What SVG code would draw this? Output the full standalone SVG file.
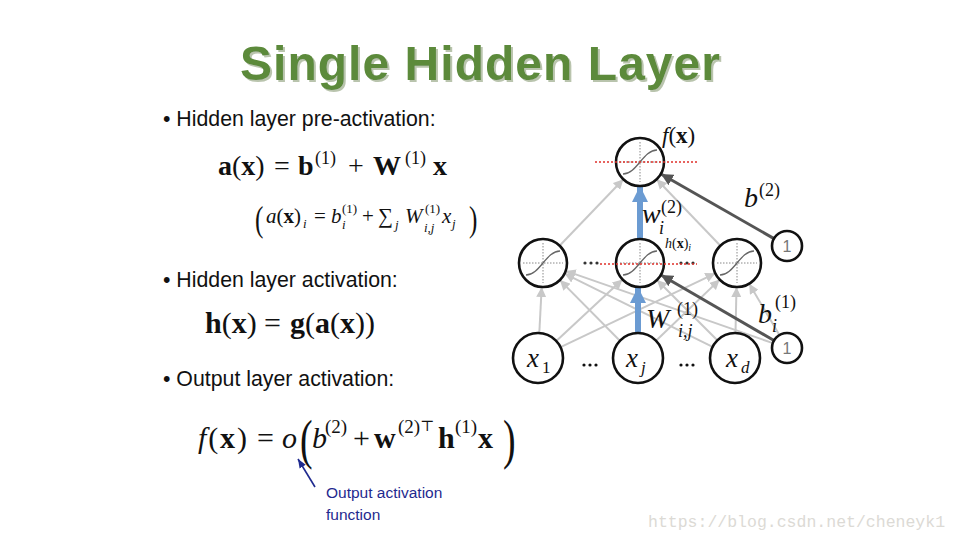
<svg xmlns="http://www.w3.org/2000/svg" xmlns:xlink="http://www.w3.org/1999/xlink" width="960" height="540" viewBox="0 0 960 540">
<style>
.t{font-family:"Liberation Sans",Arial,sans-serif}
.m{font-family:"Liberation Serif","DejaVu Serif",serif;fill:#111}
.i{font-style:italic}
.b{font-weight:bold}
.bul{font-family:"Liberation Sans",Arial,sans-serif;font-size:21.3px;fill:#111}
.node{fill:#fff;stroke:#111;stroke-width:2.6}
.lg{stroke:#c8c8c8;stroke-width:2;fill:none;marker-end:url(#ag)}
.dk{stroke:#555;stroke-width:3;fill:none;marker-end:url(#ad)}
.bl{stroke:#6b9bd2;stroke-width:6;fill:none;marker-end:url(#ab)}
.red{stroke:#e0302a;stroke-width:1.5;stroke-dasharray:2 2}
.one{font-family:"Liberation Sans",Arial,sans-serif;font-size:16px;fill:#777}
</style>
<defs>
<filter id="sh" x="-5%" y="-20%" width="110%" height="140%">
<feOffset in="SourceAlpha" dx="2" dy="2" result="o"/>
<feFlood flood-color="#b9c4ad"/>
<feComposite in2="o" operator="in" result="s"/>
<feMerge><feMergeNode in="s"/><feMergeNode in="SourceGraphic"/></feMerge>
</filter>
<marker id="ag" viewBox="0 0 10 10" refX="10" refY="5" markerWidth="10" markerHeight="10" markerUnits="userSpaceOnUse" orient="auto"><path d="M0,0 L10,5 L0,10 z" fill="#c8c8c8"/></marker>
<marker id="ad" viewBox="0 0 10 10" refX="10" refY="5" markerWidth="12" markerHeight="12" markerUnits="userSpaceOnUse" orient="auto"><path d="M0,0 L10,5 L0,10 z" fill="#555"/></marker>
<marker id="ab" viewBox="0 0 10 10" refX="10" refY="5" markerWidth="16" markerHeight="16" markerUnits="userSpaceOnUse" orient="auto"><path d="M0,0 L10,5 L0,10 z" fill="#6b9bd2"/></marker>
<marker id="an" viewBox="0 0 10 10" refX="10" refY="5" markerWidth="9" markerHeight="9" markerUnits="userSpaceOnUse" orient="auto"><path d="M0,1 L10,5 L0,9 z" fill="#1f2a8f"/></marker>
<g id="sig">
<path d="M-20,0 H20 M0,-20 V20" stroke="#888" stroke-width="1" stroke-dasharray="1.5 1.5" fill="none"/>
<path d="M-17,12 C-3,12 3,-12 17,-12" stroke="#666" stroke-width="1.3" fill="none"/>
</g>
</defs>
<rect width="960" height="540" fill="#fff"/>

<g id="title">
<text x="480" y="80" text-anchor="middle" class="t b" font-size="48" fill="#5b8a3a" textLength="480" filter="url(#sh)">Single Hidden Layer</text>
</g>

<g id="bullets">
<text x="163" y="126" class="bul">• Hidden layer pre-activation:</text>
<text x="163" y="287" class="bul">• Hidden layer activation:</text>
<text x="163" y="386" class="bul">• Output layer activation:</text>
</g>

<g id="eq1" class="m" font-size="28">
<text x="218" y="175"><tspan class="b">a</tspan>(<tspan class="b">x</tspan>)</text>
<text x="274" y="175">=</text>
<text x="298" y="175" class="b">b</text>
<text x="315" y="164" font-size="18">(1)</text>
<text x="348" y="175">+</text>
<text x="373" y="175" class="b">W</text>
<text x="405" y="164" font-size="18">(1)</text>
<text x="433" y="175" class="b">x</text>
</g>

<g id="eq1b" class="m" font-size="21">
<text x="255" y="231" font-size="36" transform="translate(255 231) scale(0.7 1) translate(-255 -231)">(</text>
<text x="266" y="223"><tspan class="i">a</tspan>(<tspan class="b">x</tspan>)</text>
<text x="303" y="228" font-size="13" class="i">i</text>
<text x="314" y="223">=</text>
<text x="331" y="223" class="i">b</text>
<text x="342" y="213" font-size="13">(1)</text>
<text x="342" y="229" font-size="13" class="i">i</text>
<text x="362" y="223">+</text>
<text x="378" y="223">∑</text>
<text x="395" y="229" font-size="13" class="i">j</text>
<text x="405" y="223" class="i">W</text>
<text x="425" y="213" font-size="13">(1)</text>
<text x="424" y="232" font-size="13" class="i">i,j</text>
<text x="442" y="223" class="i">x</text>
<text x="452" y="228" font-size="13" class="i">j</text>
<text x="469" y="231" font-size="36" transform="translate(469 231) scale(0.7 1) translate(-469 -231)">)</text>
</g>

<g id="eq2" class="m" font-size="30">
<text x="205" y="333"><tspan class="b">h</tspan>(<tspan class="b">x</tspan>)</text>
<text x="264" y="333">=</text>
<text x="290" y="333"><tspan class="b">g</tspan>(<tspan class="b">a</tspan>(<tspan class="b">x</tspan>))</text>
</g>

<g id="eq3" class="m" font-size="30">
<text x="198" y="448" textLength="49"><tspan class="i">f</tspan>(<tspan class="b">x</tspan>)</text>
<text x="257" y="448">=</text>
<text x="282" y="448" class="i">o</text>
<text x="300" y="458" font-size="54" transform="translate(300 458) scale(0.7 1) translate(-300 -458)">(</text>
<text x="312" y="448" class="i">b</text>
<text x="325" y="433" font-size="19">(2)</text>
<text x="353" y="448">+</text>
<text x="374" y="448" class="b">w</text>
<text x="398" y="433" font-size="19">(2)</text>
<text x="420" y="431" font-size="15">⊤</text>
<text x="438" y="448" class="b">h</text>
<text x="455" y="433" font-size="19">(1)</text>
<text x="478" y="448" class="b">x</text>
<text x="503" y="458" font-size="54" transform="translate(503 458) scale(0.7 1) translate(-503 -458)">)</text>
</g>

<g id="annotation">
<line x1="315" y1="487" x2="298" y2="459" stroke="#1f2a8f" stroke-width="1.6" marker-end="url(#an)"/>
<text x="326" y="498" class="t" font-size="15.5" fill="#1f2a8f">Output activation</text>
<text x="326" y="520" class="t" font-size="15.5" fill="#1f2a8f">function</text>
</g>

<g id="connectors">
<line class="lg" x1="539.3" y1="333" x2="541.7" y2="287"/>
<line class="lg" x1="556.3" y1="341" x2="622.4" y2="279.4"/>
<line class="lg" x1="560.6" y1="347.2" x2="715.3" y2="273.3"/>
<line class="lg" x1="619.4" y1="340.2" x2="559.9" y2="280.1"/>
<line class="lg" x1="656" y1="340.7" x2="719.7" y2="279.6"/>
<line class="lg" x1="712.6" y1="346.9" x2="564.5" y2="273.6"/>
<line class="lg" x1="717.3" y1="340.3" x2="657" y2="280"/>
<line class="lg" x1="735.5" y1="333" x2="736.5" y2="287"/>
<line class="lg" x1="772.8" y1="343.1" x2="565.7" y2="270.9"/>
<line class="lg" x1="779.4" y1="335.1" x2="749.2" y2="283.7"/>
<line class="lg" x1="559.6" y1="245.7" x2="623.4" y2="179.3"/>
<line class="lg" x1="720.4" y1="245.7" x2="656.6" y2="179.3"/>
<line class="dk" x1="774" y1="340.5" x2="661" y2="275"/>
<line class="dk" x1="774" y1="238.6" x2="661" y2="174"/>
<line class="bl" x1="638" y1="333" x2="638" y2="287"/>
<line class="bl" x1="640" y1="239" x2="640" y2="186"/>
</g>

<g id="out">
<circle class="node" cx="640" cy="162" r="24"/>
<use xlink:href="#sig" x="640" y="162"/>
</g>
<g id="h1"><circle class="node" cx="543" cy="263" r="24"/><use xlink:href="#sig" x="543" y="263"/></g>
<g id="h2"><circle class="node" cx="640" cy="263" r="24"/><use xlink:href="#sig" x="640" y="263"/></g>
<g id="h3"><circle class="node" cx="737" cy="263" r="24"/><use xlink:href="#sig" x="737" y="263"/></g>
<g id="x1"><circle class="node" cx="538" cy="358" r="25"/>
<text x="527" y="367" class="m i" font-size="27">x</text><text x="542" y="373" class="m" font-size="17">1</text></g>
<g id="xj"><circle class="node" cx="638" cy="358" r="25"/>
<text x="626" y="367" class="m i" font-size="27">x</text><text x="641" y="373" class="m i" font-size="17">j</text></g>
<g id="xd"><circle class="node" cx="735" cy="358" r="25"/>
<text x="726" y="367" class="m i" font-size="27">x</text><text x="741" y="373" class="m i" font-size="17">d</text></g>
<g id="bias2"><circle class="node" cx="787" cy="246" r="15"/><text x="787" y="252" text-anchor="middle" class="one">1</text></g>
<g id="bias1"><circle class="node" cx="787" cy="348" r="15"/><text x="787" y="354" text-anchor="middle" class="one">1</text></g>

<g id="dots" fill="#333">
<circle cx="585" cy="263" r="1.6"/><circle cx="591" cy="263" r="1.6"/><circle cx="597" cy="263" r="1.6"/>
<circle cx="681" cy="263" r="1.6"/><circle cx="687" cy="263" r="1.6"/><circle cx="693" cy="263" r="1.6"/>
<circle cx="584" cy="365" r="1.6" fill="#111"/><circle cx="590" cy="365" r="1.6" fill="#111"/><circle cx="596" cy="365" r="1.6" fill="#111"/>
<circle cx="681" cy="365" r="1.6" fill="#111"/><circle cx="687" cy="365" r="1.6" fill="#111"/><circle cx="693" cy="365" r="1.6" fill="#111"/>
</g>

<g id="redlines">
<line class="red" x1="595" y1="162" x2="698" y2="162"/>
<line class="red" x1="600" y1="264" x2="697" y2="264"/>
</g>

<g id="netlabels" class="m">
<text x="662" y="143" font-size="23"><tspan class="i">f</tspan>(<tspan class="b">x</tspan>)</text>
<text x="642" y="223" font-size="28" class="i">w</text>
<text x="661" y="213" font-size="18">(2)</text>
<text x="659" y="234" font-size="18" class="i">i</text>
<text x="744" y="207" font-size="28" class="i">b</text>
<text x="759" y="196" font-size="18">(2)</text>
<text x="665" y="248" font-size="14"><tspan class="i">h</tspan>(<tspan class="b">x</tspan>)<tspan class="i" font-size="10" dy="3">i</tspan></text>
<text x="646" y="328" font-size="28" class="i">W</text>
<text x="677" y="315" font-size="18">(1)</text>
<text x="678" y="337" font-size="18" class="i">i,j</text>
<text x="758" y="323" font-size="28" class="i">b</text>
<text x="775" y="308" font-size="18">(1)</text>
<text x="772" y="332" font-size="18" class="i">i</text>
</g>

<text x="648" y="527" font-family="'Liberation Mono','DejaVu Sans Mono',monospace" font-size="16.5" fill="#dcdad5">https://blog.csdn.net/cheneyk1</text>
</svg>
